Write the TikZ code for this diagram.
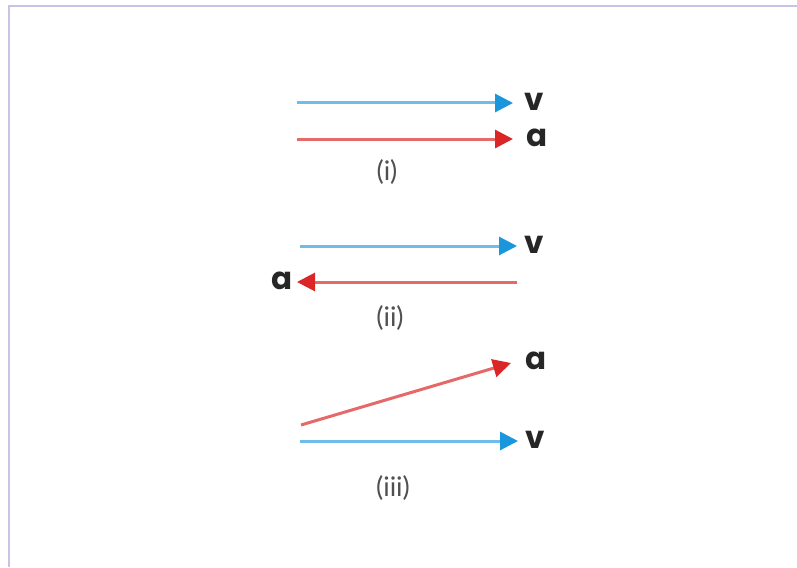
\documentclass[tikz,border=0pt]{standalone}
\usepackage{fontspec}
\setmainfont{Lato}
\newfontfamily\labfont{Poppins}
\usetikzlibrary{arrows.meta}
\definecolor{bluetip}{RGB}{25,150,220}
\definecolor{blueline}{RGB}{110,188,235}
\definecolor{redtip}{RGB}{218,38,38}
\definecolor{redline}{RGB}{230,105,105}
\definecolor{frame}{RGB}{200,195,228}
\definecolor{numgray}{RGB}{80,80,80}
\tikzset{
  varrow/.style={draw=blueline, line width=3pt, -{Triangle[length=18pt,width=18pt,color=bluetip]}},
  aarrow/.style={draw=redline, line width=3pt, -{Triangle[length=18pt,width=18pt,color=redtip]}},
  veclab/.style={font=\labfont\bfseries\fontsize{31}{31}\selectfont, inner sep=0pt, text=black!85},
  numlab/.style={font=\fontsize{27}{27}\selectfont, inner sep=0pt, text=numgray}
}
\begin{document}
\begin{tikzpicture}[x=1pt,y=-1pt]
\useasboundingbox (0,0) rectangle (797,567);
\draw[frame, line width=2.5pt] (9,567) -- (9,6) -- (797,6);
% (i)
\coordinate (v1s) at (297,103); \coordinate (v1e) at (513,103);
\coordinate (a1s) at (297,139); \coordinate (a1e) at (513,139);
\draw[varrow] (v1s) -- (v1e);
\draw[aarrow] (a1s) -- (a1e);
\node[veclab] (v1) at (534,102) {v};
\node[veclab] (a1) at (537,138) {a};
\node[numlab] (n1) at (387,172) {(i)};
% (ii)
\coordinate (v2s) at (300,246); \coordinate (v2e) at (517,246);
\coordinate (a2s) at (517,282); \coordinate (a2e) at (297,282);
\draw[varrow] (v2s) -- (v2e);
\draw[aarrow] (a2s) -- (a2e);
\node[veclab] (v2) at (534,245) {v};
\node[veclab] (a2) at (282,281) {a};
\node[numlab] (n2) at (390,318) {(ii)};
% (iii)
\coordinate (a3s) at (301,425); \coordinate (a3e) at (511,363);
\coordinate (v3s) at (300,441); \coordinate (v3e) at (518,441);
\draw[aarrow] (a3s) -- (a3e);
\draw[varrow] (v3s) -- (v3e);
\node[veclab] (a3) at (536,361) {a};
\node[veclab] (v3) at (535,440) {v};
\node[numlab] (n3) at (393,488) {(iii)};
\end{tikzpicture}
\end{document}
